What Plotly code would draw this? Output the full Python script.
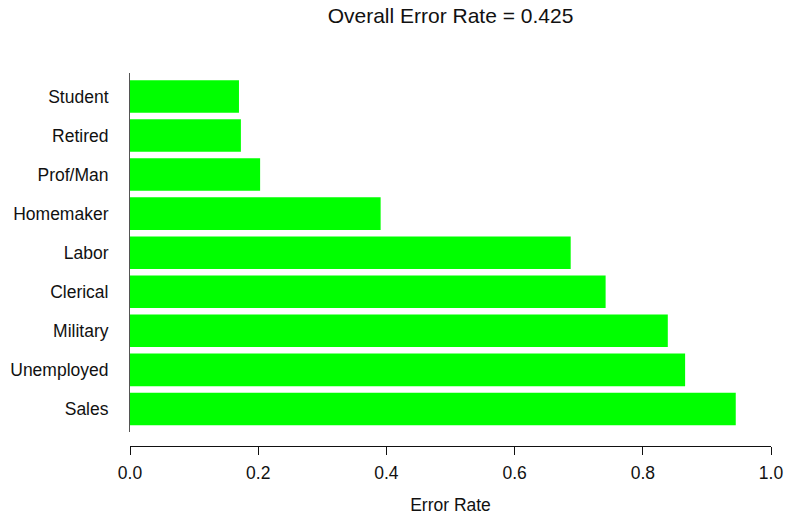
import plotly.graph_objects as go

categories = ["Sales", "Unemployed", "Military", "Clerical", "Labor",
              "Homemaker", "Prof/Man", "Retired", "Student"]
error_rate = [0.945, 0.866, 0.839, 0.742, 0.6875, 0.391, 0.203, 0.173, 0.170]
x_ticks = [0.0, 0.2, 0.4, 0.6, 0.8, 1.0]
x_tick_labels = ["0.0", "0.2", "0.4", "0.6", "0.8", "1.0"]
overall_rate = 0.425

W, H = 786, 520
L, R, T, B = 130, 15, 73, 74
plot_h = H - T - B
FAM = "Liberation Sans, Arial, sans-serif"
TXT = "#111111"

fig = go.Figure(go.Bar(
    x=error_rate, y=categories, orientation="h",
    marker=dict(color="#00FF00", line=dict(width=0)),
    showlegend=False,
))

fig.update_layout(
    width=W, height=H,
    margin=dict(l=L, r=R, t=T, b=B, autoexpand=False),
    paper_bgcolor="white", plot_bgcolor="white",
    bargap=0.167,
    font=dict(family=FAM, size=17.5, color=TXT),
    title=dict(text=f"Overall Error Rate = {overall_rate}", x=0.5, xref="paper",
               y=1 - 16 / H, yref="container", yanchor="middle", xanchor="center",
               font=dict(family=FAM, size=21, color=TXT)),
    xaxis=dict(range=[0, 1], tickvals=x_ticks, ticktext=x_tick_labels,
               showgrid=False, zeroline=False, showline=True, linecolor=TXT,
               linewidth=1, ticks="outside", ticklen=8, tickcolor=TXT,
               ticklabelstandoff=3,
               anchor="free", position=0,
               title=dict(text="Error Rate", standoff=16,
                          font=dict(family=FAM, size=17.5, color=TXT))),
    yaxis=dict(categoryorder="array", categoryarray=categories,
               range=[-0.59, 8.6], domain=[14 / plot_h, 1],
               showgrid=False, zeroline=False, showline=True, linecolor="#555555",
               linewidth=1, ticks="", ticklabelstandoff=17),
)

fig.write_html("out.html", config={"displayModeBar": False},
               post_script="document.body.style.margin='0';")
